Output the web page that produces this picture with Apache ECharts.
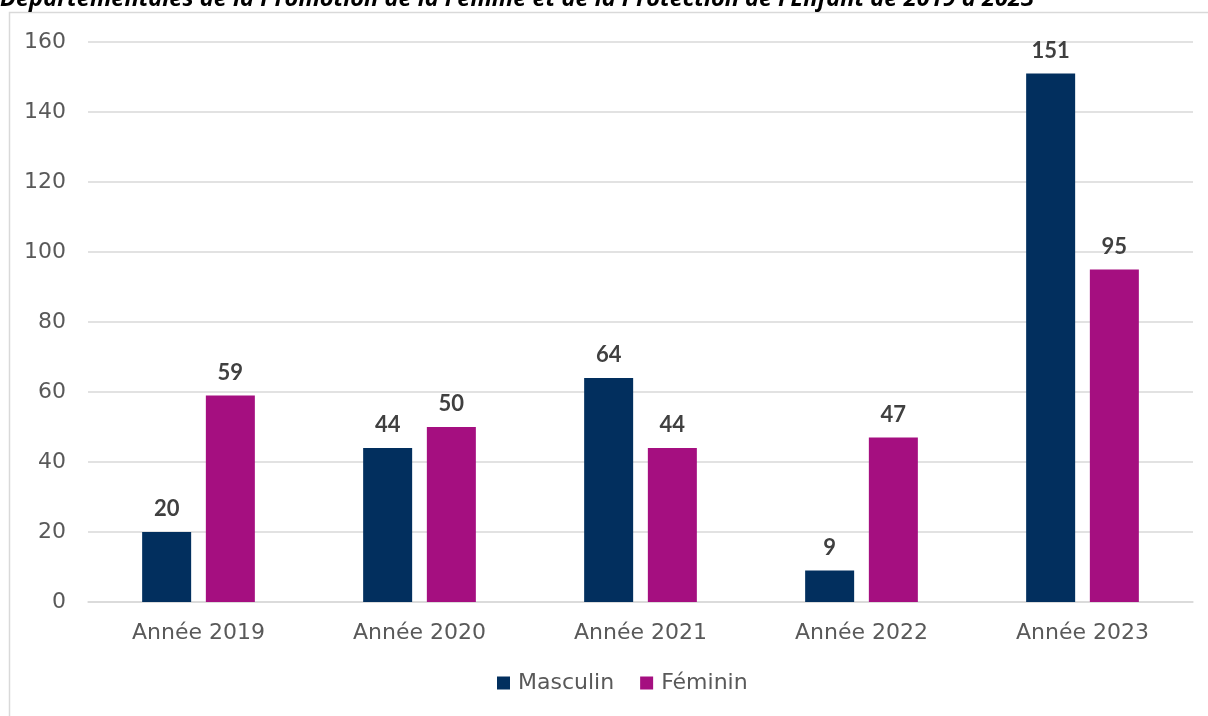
<!DOCTYPE html>
<html>
<head>
<meta charset="utf-8">
<script src="https://cdn.jsdelivr.net/npm/echarts@6/dist/echarts.min.js"></script>
<style>
  html, body { margin: 0; padding: 0; background: #fff; }
  #main { width: 1208px; height: 716px; }
</style>
</head>
<body>
<div id="main"></div>
<script>
const titleText = 'Départementales de la Promotion de la Femme et de la Protection de l\u2019Enfant de 2019 à 2023'
const categories = ['Année 2019', 'Année 2020', 'Année 2021', 'Année 2022', 'Année 2023']
const masculin = [20, 44, 64, 9, 151]
const feminin = [59, 50, 44, 47, 95]

const fontFam = '"DejaVu Sans", sans-serif'
const chart = echarts.init(document.getElementById('main'))

const labelStyle = {
  show: true,
  position: 'top',
  distance: 12,
  color: '#404040',
  fontSize: 22,
  fontWeight: 'bold',
  fontFamily: 'Lato, sans-serif'
}

chart.setOption({
  animation: false,
  graphic: [
    {
      type: 'rect',
      shape: { x: 9.5, y: 12.5, width: 1220, height: 720 },
      style: { fill: 'none', stroke: '#d9d9d9', lineWidth: 1.5 }
    },
    {
      type: 'text',
      left: 0,
      top: -13,
      style: {
        text: titleText,
        fontSize: 23.6,
        fontWeight: 'bold',
        fontStyle: 'italic',
        fontFamily: '"Open Sans", sans-serif',
        fill: '#000'
      }
    }
  ],
  grid: { left: 88, right: 15, top: 42, bottom: 114 },
  legend: {
    bottom: 17,
    left: 492,
    itemWidth: 13,
    itemHeight: 13,
    itemGap: 26,
    icon: 'rect',
    textStyle: { color: '#595959', fontSize: 22, fontFamily: fontFam, padding: [0, 0, 0, 3] }
  },
  xAxis: {
    type: 'category',
    data: categories,
    axisLine: { lineStyle: { color: '#d9d9d9', width: 1.5 } },
    axisTick: { show: false },
    axisLabel: { color: '#595959', fontSize: 22, fontFamily: fontFam, margin: 20 }
  },
  yAxis: {
    type: 'value',
    min: 0,
    max: 160,
    interval: 20,
    axisLine: { show: false },
    axisTick: { show: false },
    splitLine: { lineStyle: { color: '#d9d9d9', width: 1.5 } },
    axisLabel: { color: '#595959', fontSize: 22, fontFamily: fontFam, margin: 22 }
  },
  series: [
    {
      name: 'Masculin',
      type: 'bar',
      data: masculin,
      itemStyle: { color: '#022f5e' },
      barGap: '30%',
      barCategoryGap: '49%',
      label: labelStyle
    },
    {
      name: 'Féminin',
      type: 'bar',
      data: feminin,
      itemStyle: { color: '#a50f80' },
      label: labelStyle
    }
  ]
})
</script>
</body>
</html>
